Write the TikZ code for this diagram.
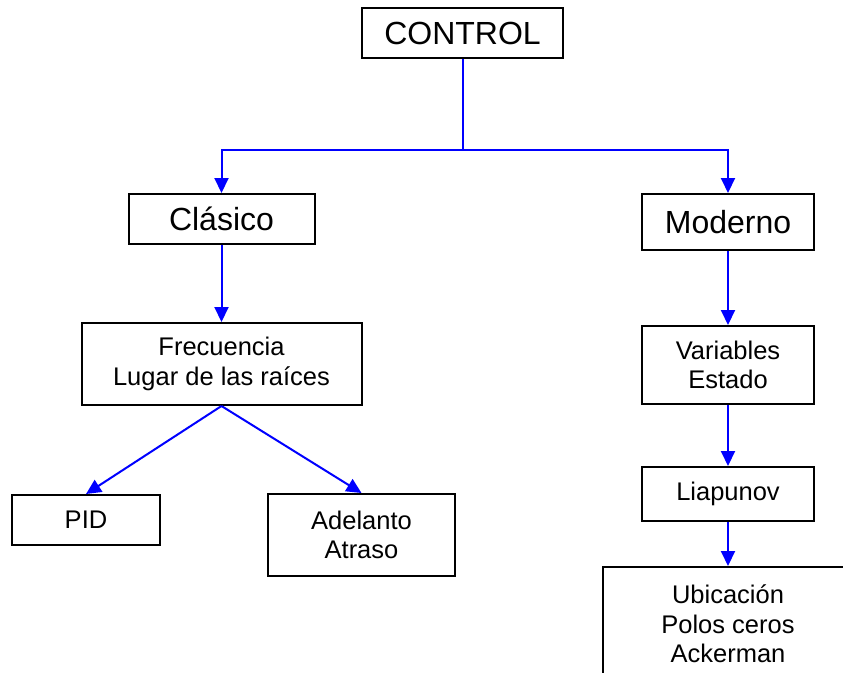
\documentclass[tikz,border=0pt]{standalone}
\usepackage{fontspec}
\setmainfont{Liberation Sans}
\usepackage{tikz}
\usetikzlibrary{positioning,arrows.meta}
\definecolor{lineblue}{rgb}{0,0,1}

\begin{document}
\begin{tikzpicture}[x=1pt,y=-1pt,
box/.style={rectangle,draw,line width=2pt,inner sep=0pt,align=center,
  font=\fontsize{25.5}{29.5}\selectfont},
bigbox/.style={box,font=\fontsize{32}{37}\selectfont},
edge/.style={-{Triangle[length=15pt,width=14pt]},line width=2pt,color=lineblue}]

\fill[white] (0,0) rectangle (843,672);
\useasboundingbox (0,0) rectangle (843,672);
\clip (0,0) rectangle (843,672);

% nodes
\node[bigbox,minimum width=201pt,minimum height=50pt] (control) at (462.5,33) {CONTROL};
\node[bigbox,minimum width=186pt,minimum height=50pt] (clasico) at (221.5,219) {Clásico};
\node[bigbox,minimum width=172pt,minimum height=56pt] (moderno) at (728,222) {Moderno};

\node[box,minimum width=280pt,minimum height=82pt] (frec) at (221.5,364) {Frecuencia\\Lugar de las raíces};
\node[box,minimum width=148pt,minimum height=50pt] (pid) at (86,520) {PID};
\node[box,minimum width=187pt,minimum height=82pt] (adel) at (361.5,535) {Adelanto\\Atraso};

\node[box,minimum width=172pt,minimum height=78pt] (vars) at (728,365) {Variables\\Estado};
\node[box,minimum width=172pt,minimum height=54pt] (liap) at (728,494) {Liapunov};
\node[box,minimum width=250pt,minimum height=114pt] (ubic) at (728,624) {Ubicación\\Polos ceros\\Ackerman};

% branch point under CONTROL
\coordinate[below=91pt of control.south] (branch);

% arrows
\draw[line width=2pt,color=lineblue] (control.south) -- (branch);
\draw[edge] (branch) -| (clasico.north);
\draw[edge] (branch) -| (moderno.north);

\draw[edge] (clasico) -- (frec);
\draw[edge] (frec.south) -- (pid.north);
\draw[edge] (frec.south) -- (adel.north);

\draw[edge] (moderno) -- (vars);
\draw[edge] (vars) -- (liap);
\draw[edge] (liap) -- (ubic);
\end{tikzpicture}
\end{document}
